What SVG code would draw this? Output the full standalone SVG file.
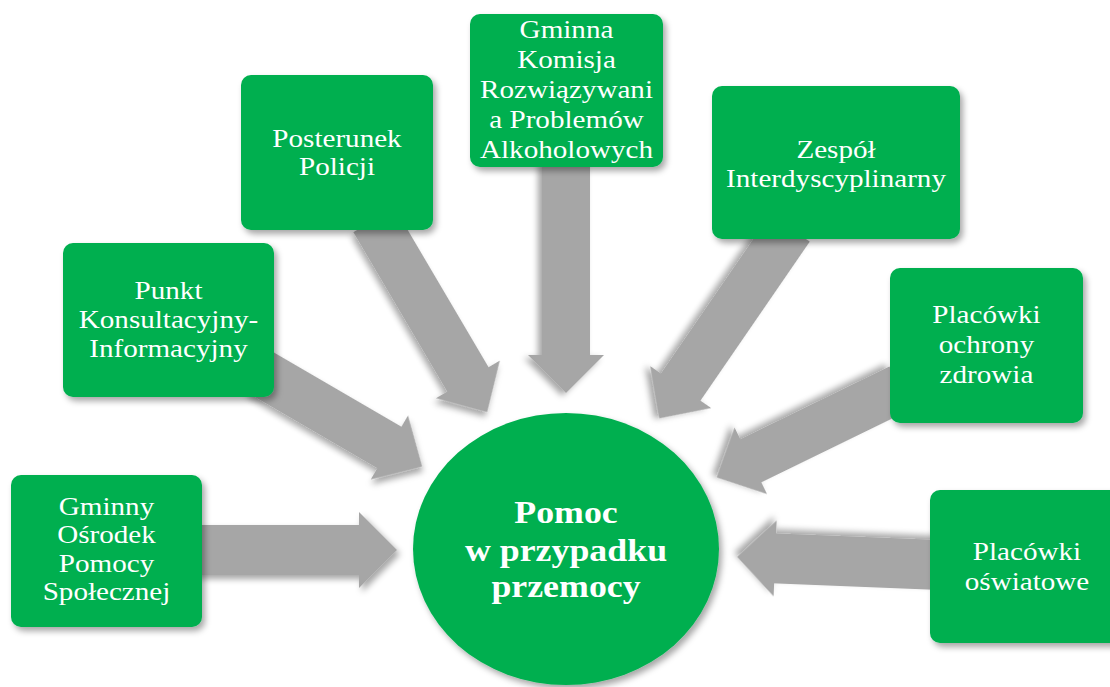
<svg xmlns="http://www.w3.org/2000/svg" width="1110" height="687" viewBox="0 0 1110 687">
<defs>
<filter id="sh" x="-20%" y="-20%" width="140%" height="140%">
<feDropShadow dx="3" dy="4" stdDeviation="3" flood-color="#000" flood-opacity="0.35"/>
</filter>
<style>
.arr{fill:#A6A6A6;filter:url(#sh)}
.box{fill:#00AF50;filter:url(#sh)}
.t{font-family:"Liberation Serif","Times New Roman",serif;font-size:26px;fill:#fff;text-anchor:middle}
.tc{font-family:"Liberation Serif","Times New Roman",serif;font-size:32px;font-weight:bold;fill:#fff;text-anchor:middle}
</style>
</defs>
<rect width="1110" height="687" fill="#fff"/>
<g id="connectors">
<polygon class="arr" transform="translate(195 550)" points="0,-25 164,-25 164,-38 202,0 164,38 164,25 0,25"/>
<polygon class="arr" transform="translate(258 371) rotate(30.2)" points="0,-24 152,-24 152,-37 190,0 152,37 152,24 0,24"/>
<polygon class="arr" transform="translate(374 220) rotate(59.5)" points="0,-24 185,-24 185,-37 223,0 185,37 185,24 0,24"/>
<polygon class="arr" transform="translate(566 160) rotate(90)" points="0,-24 195,-24 195,-38 233,0 195,38 195,24 0,24"/>
<polygon class="arr" transform="translate(790 228) rotate(124.5)" points="0,-24 193,-24 193,-37 231,0 193,37 193,24 0,24"/>
<polygon class="arr" transform="translate(900 388) rotate(154)" points="0,-24 166,-24 166,-37 204,0 166,37 166,24 0,24"/>
<polygon class="arr" transform="translate(940 565) rotate(182.3)" points="0,-25 165,-25 165,-38 203,0 165,38 165,25 0,25"/>
</g>
<g id="node-gops">
<rect class="box" x="11" y="475" width="191" height="152" rx="10"/>
<text class="t" transform="translate(106.5 0) scale(1.12 1)"><tspan x="0" y="515">Gminny</tspan><tspan x="0" y="543.5">Ośrodek</tspan><tspan x="0" y="572">Pomocy</tspan><tspan x="0" y="600">Społecznej</tspan></text>
</g>
<g id="node-punkt">
<rect class="box" x="63" y="243" width="211" height="154" rx="10"/>
<text class="t" transform="translate(168.5 0) scale(1.12 1)"><tspan x="0" y="299">Punkt</tspan><tspan x="0" y="328">Konsultacyjny-</tspan><tspan x="0" y="357">Informacyjny</tspan></text>
</g>
<g id="node-policja">
<rect class="box" x="241" y="75" width="192" height="155" rx="10"/>
<text class="t" transform="translate(337 0) scale(1.12 1)"><tspan x="0" y="147">Posterunek</tspan><tspan x="0" y="175">Policji</tspan></text>
</g>
<g id="node-gkrpa">
<rect class="box" x="470" y="14" width="193" height="153" rx="10"/>
<text class="t" transform="translate(566.5 0) scale(1.12 1)"><tspan x="0" y="38">Gminna</tspan><tspan x="0" y="68">Komisja</tspan><tspan x="0" y="98">Rozwiązywani</tspan><tspan x="0" y="128">a Problemów</tspan><tspan x="0" y="158">Alkoholowych</tspan></text>
</g>
<g id="node-zespol">
<rect class="box" x="712" y="86" width="248" height="153" rx="10"/>
<text class="t" transform="translate(836 0) scale(1.12 1)"><tspan x="0" y="158">Zespół</tspan><tspan x="0" y="187">Interdyscyplinarny</tspan></text>
</g>
<g id="node-zdrowie">
<rect class="box" x="890" y="268" width="193" height="155" rx="10"/>
<text class="t" transform="translate(986.5 0) scale(1.12 1)"><tspan x="0" y="323">Placówki</tspan><tspan x="0" y="353">ochrony</tspan><tspan x="0" y="383">zdrowia</tspan></text>
</g>
<g id="node-oswiata">
<rect class="box" x="930" y="490" width="194" height="153" rx="10"/>
<text class="t" transform="translate(1027 0) scale(1.12 1)"><tspan x="0" y="560">Placówki</tspan><tspan x="0" y="590">oświatowe</tspan></text>
</g>
<g id="node-center">
<ellipse class="box" cx="566" cy="549" rx="153" ry="136"/>
<text class="tc" transform="translate(566 0) scale(1.12 1)"><tspan x="0" y="523">Pomoc</tspan><tspan x="0" y="561">w przypadku</tspan><tspan x="0" y="597">przemocy</tspan></text>
</g>
</svg>
